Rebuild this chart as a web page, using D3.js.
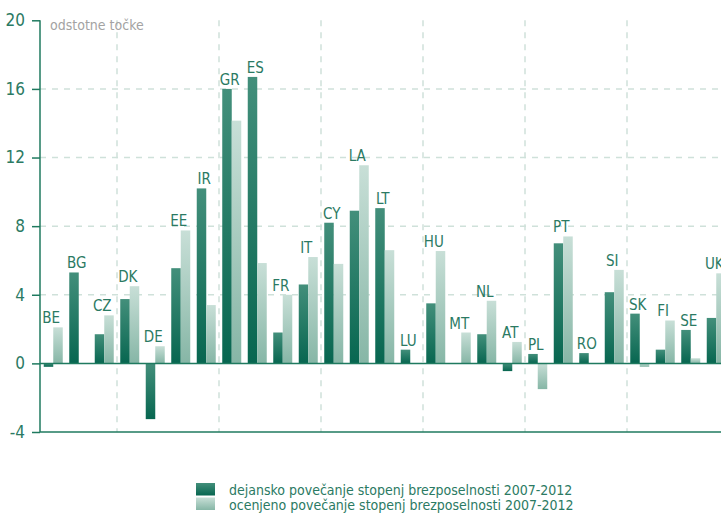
<!DOCTYPE html>
<html>
<head>
<meta charset="utf-8">
<script src="https://cdn.jsdelivr.net/npm/d3@7"></script>
<style>
  html, body { margin: 0; padding: 0; background: #fff; }
  svg { display: block; }
  text { font-family: "DejaVu Sans Condensed", "Liberation Sans Narrow", sans-serif; }
</style>
</head>
<body>
<svg id="chart" width="721" height="514"></svg>
<script>
const countries = ["BE","BG","CZ","DK","DE","EE","IR","GR","ES","FR","IT","CY","LA","LT","LU","HU","MT","NL","AT","PL","PT","RO","SI","SK","FI","SE","UK"];
const actual    = [-0.2, 5.3, 1.7, 3.75, -3.25, 5.55, 10.2, 16.0, 16.7, 1.8, 4.6, 8.2, 8.9, 9.05, 0.8, 3.5, 0, 1.7, -0.45, 0.55, 7.0, 0.6, 4.15, 2.9, 0.8, 1.95, 2.65];
const estimated = [2.1, 0, 2.8, 4.5, 1.0, 7.75, 3.4, 14.15, 5.85, 4.0, 6.2, 5.8, 11.55, 6.6, 0, 6.55, 1.8, 3.65, 1.25, -1.5, 7.4, 0, 5.45, -0.2, 2.5, 0.3, 5.25];
const yTicks = [-4, 0, 4, 8, 12, 16, 20];
const seriesNames = ["dejansko povečanje stopenj brezposelnosti 2007-2012", "ocenjeno povečanje stopenj brezposelnosti 2007-2012"];
const yUnit = "odstotne točke";

const svg = d3.select("#chart");
const green = "#1f7a5f";
const textGreen = "#2b7a63";
const gridCol = "#cfe1da";

const x = d3.scaleBand().domain(countries).range([40.5, 729]).paddingInner(0.255).paddingOuter(0.1275);
const xs = d3.scaleBand().domain([0, 1]).range([0, x.bandwidth()]);
const y = d3.scaleLinear().domain([-4, 20]).range([432, 20.3]);

// gradients
const defs = svg.append("defs");
function grad(id, c1, c2) {
  const g = defs.append("linearGradient").attr("id", id).attr("x1", 0).attr("y1", 0).attr("x2", 0).attr("y2", 1);
  g.append("stop").attr("offset", "0%").attr("stop-color", c1);
  g.append("stop").attr("offset", "100%").attr("stop-color", c2);
}
grad("gDark", "#438f7b", "#076650");
grad("gLight", "#c8dfd7", "#86b6a6");
const fills = ["url(#gDark)", "url(#gLight)"];

// vertical dashed grid lines
const vIdx = [3, 7, 11, 15, 19, 23];
svg.append("g").selectAll("line").data(vIdx).join("line")
  .attr("x1", d => x(countries[d]) - x.step() * x.paddingInner() / 2)
  .attr("x2", d => x(countries[d]) - x.step() * x.paddingInner() / 2)
  .attr("y1", y(20)).attr("y2", y(-4))
  .attr("stroke", gridCol).attr("stroke-width", 1.5).attr("stroke-dasharray", "6,6");

// horizontal dashed grid lines
svg.append("g").selectAll("line").data([4, 8, 12, 16]).join("line")
  .attr("x1", 40).attr("x2", 721)
  .attr("y1", d => y(d)).attr("y2", d => y(d))
  .attr("stroke", gridCol).attr("stroke-width", 1.5).attr("stroke-dasharray", "6,6");

// bars
const groups = svg.append("g").selectAll("g").data(countries).join("g")
  .attr("transform", d => `translate(${x(d)},0)`);
groups.selectAll("rect").data((d, i) => [actual[i], estimated[i]]).join("rect")
  .attr("x", (v, j) => xs(j))
  .attr("width", xs.bandwidth())
  .attr("y", v => y(Math.max(0, v)))
  .attr("height", v => Math.abs(y(v) - y(0)))
  .attr("fill", (v, j) => fills[j]);

// country labels
groups.append("text")
  .attr("x", x.bandwidth() / 2 - 2)
  .attr("y", (d, i) => y(Math.max(0, actual[i], estimated[i])) - 4)
  .attr("text-anchor", "middle")
  .attr("font-size", 15)
  .attr("fill", textGreen)
  .text(d => d);

// zero line and bottom line
svg.append("line").attr("x1", 40).attr("x2", 721).attr("y1", y(0)).attr("y2", y(0))
  .attr("stroke", green).attr("stroke-width", 1.5);
svg.append("line").attr("x1", 40).attr("x2", 721).attr("y1", y(-4)).attr("y2", y(-4))
  .attr("stroke", green).attr("stroke-width", 1.5);

// y axis
const yAxis = d3.axisLeft(y).tickValues(yTicks).tickSize(8).tickPadding(7).tickFormat(d => String(d));
const ga = svg.append("g").attr("transform", "translate(40,0)").call(yAxis);
ga.select(".domain").attr("stroke", green).attr("stroke-width", 1.5).attr("d", `M-0,${y(20)}V${y(-4)}`);
ga.selectAll(".tick line").attr("stroke", green).attr("stroke-width", 1.5);
ga.selectAll(".tick text").attr("fill", textGreen).attr("font-size", 17)
  .attr("font-family", "\"DejaVu Sans Condensed\", sans-serif");

// unit label
svg.append("text").attr("x", 50).attr("y", 30).attr("font-size", 14).attr("fill", "#a3a3a3").text(yUnit);

// legend
const lg = svg.append("g");
seriesNames.forEach((name, i) => {
  lg.append("rect").attr("x", 196).attr("y", 483 + i * 14.5).attr("width", 19).attr("height", 12.5).attr("fill", fills[i]);
  lg.append("text").attr("x", 229).attr("y", 494.5 + i * 15).attr("font-size", 14).attr("fill", textGreen).text(name);
});
</script>
</body>
</html>
